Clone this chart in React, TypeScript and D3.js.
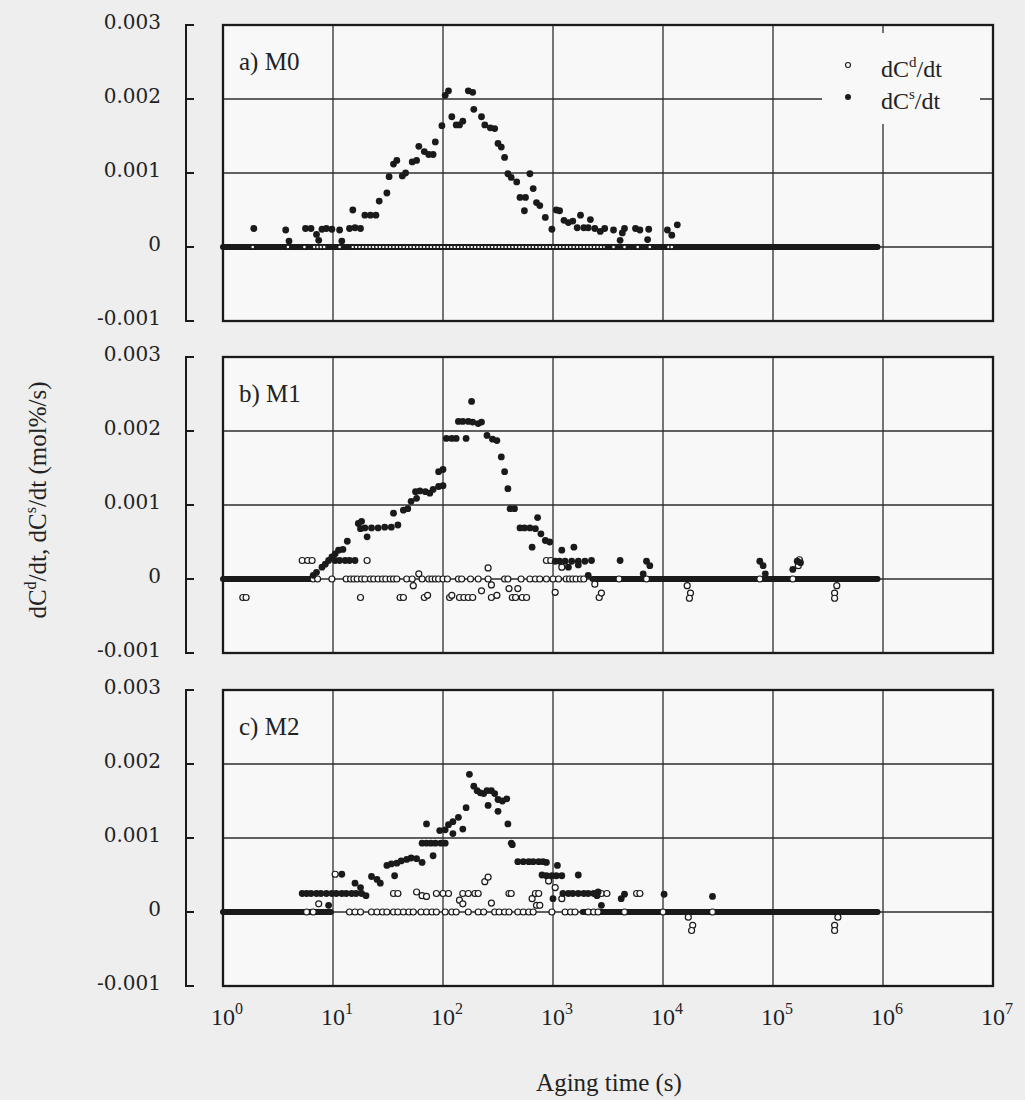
import React from "react";
import * as d3 from "d3";

type P = [number, number];

// ---------- axis / label data ----------
const xExponents = [0, 1, 2, 3, 4, 5, 6, 7];
const yTickValues = [-0.001, 0, 0.001, 0.002, 0.003];
const yTickLabels = ["-0.001", "0", "0.001", "0.002", "0.003"];
const panelNames = ["a) M0", "b) M1", "c) M2"];
const legendItems = [
  { base: "dC", sup: "d", tail: "/dt", open: true },
  { base: "dC", sup: "s", tail: "/dt", open: false },
];

// ---------- data: [log10(aging time / s), rate in 1e-3 mol%/s] ----------
// M0 : dC^s/dt (filled)
const m0Solid: P[] = [
  [0.28, 0.25], [0.57, 0.23], [0.6, 0.08], [0.75, 0.25], [0.8, 0.25], [0.85, 0.17], [0.87, 0.09],
  [0.9, 0.24], [0.94, 0.25], [0.99, 0.24], [1.06, 0.23], [1.08, 0.08], [1.15, 0.25], [1.2, 0.26],
  [1.25, 0.25], [1.18, 0.5], [1.29, 0.43], [1.34, 0.43], [1.39, 0.43], [1.42, 0.62], [1.49, 0.73],
  [1.51, 0.95], [1.55, 1.12], [1.58, 1.17], [1.63, 0.96], [1.66, 1.0], [1.72, 1.15], [1.76, 1.17],
  [1.78, 1.36], [1.83, 1.29], [1.87, 1.25], [1.91, 1.25], [1.93, 1.42], [1.99, 1.64], [2.02, 2.05],
  [2.05, 2.11], [2.08, 1.76], [2.12, 1.65], [2.15, 1.65], [2.18, 1.7], [2.23, 2.11], [2.27, 2.09],
  [2.28, 1.86], [2.35, 1.76], [2.38, 1.65], [2.43, 1.61], [2.47, 1.6], [2.5, 1.4], [2.53, 1.35],
  [2.56, 1.21], [2.59, 0.99], [2.62, 0.94], [2.67, 0.88], [2.7, 0.67], [2.75, 0.67], [2.74, 0.49],
  [2.79, 0.99], [2.82, 0.79], [2.85, 0.6], [2.88, 0.56], [2.93, 0.4], [2.99, 0.24], [3.03, 0.5],
  [3.06, 0.49], [3.1, 0.36], [3.14, 0.33], [3.18, 0.35], [3.22, 0.26], [3.25, 0.43], [3.28, 0.26],
  [3.32, 0.26], [3.34, 0.37], [3.38, 0.25], [3.43, 0.21], [3.47, 0.25], [3.55, 0.23], [3.61, 0.09],
  [3.63, 0.19], [3.65, 0.25], [3.75, 0.25], [3.79, 0.23], [3.86, 0.1], [3.87, 0.24], [4.04, 0.23],
  [4.08, 0.16], [4.13, 0.3],
];
// M0 : dC^d/dt (open)
const m0Open: P[] = [
  [0.27, 0], [0.59, 0], [0.74, 0], [0.83, 0], [0.86, 0], [0.89, 0], [0.92, 0], [1.06, 0],
  [3.55, 0], [3.65, 0], [3.77, 0], [3.88, 0], [4.05, 0], [4.08, 0],
];
// stretches of densely sampled zero values [from, to] in log10(t)
const m0SolidZeroRuns: P[] = [[0, 5.95]];
const m0OpenZeroRuns: P[] = [[1.17, 3.47]];

// M1 : dC^s/dt (filled)
const m1Solid: P[] = [
  [0.82, 0.05], [0.85, 0.09], [0.9, 0.16], [0.93, 0.2], [0.96, 0.25], [0.99, 0.3], [1.02, 0.34],
  [1.05, 0.39], [1.09, 0.4], [1.13, 0.51], [1.02, 0.25], [1.06, 0.25], [1.11, 0.25], [1.15, 0.25],
  [1.2, 0.25], [1.23, 0.75], [1.25, 0.68], [1.26, 0.78], [1.29, 0.69], [1.35, 0.69], [1.41, 0.69],
  [1.47, 0.7], [1.53, 0.7], [1.59, 0.73], [1.31, 0.57], [1.55, 0.89], [1.64, 0.93], [1.68, 0.95],
  [1.71, 1.05], [1.75, 1.18], [1.79, 1.19], [1.84, 1.18], [1.88, 1.16], [1.91, 1.21], [1.96, 1.25],
  [2.0, 1.26], [1.76, 1.09], [1.96, 1.45], [2.0, 1.48], [2.03, 1.9], [2.08, 1.9], [2.12, 1.9],
  [2.21, 1.9], [2.14, 2.13], [2.18, 2.13], [2.23, 2.13], [2.27, 2.12], [2.32, 2.1], [2.35, 2.12],
  [2.26, 2.4], [2.4, 1.94], [2.45, 1.89], [2.49, 1.87], [2.53, 1.65], [2.56, 1.45], [2.59, 1.22],
  [2.61, 0.95], [2.65, 0.95], [2.7, 0.69], [2.74, 0.69], [2.79, 0.69], [2.84, 0.68], [2.81, 0.43],
  [2.86, 0.83], [2.89, 0.61], [2.93, 0.52], [2.97, 0.5], [3.08, 0.39], [3.19, 0.43], [3.02, 0.24],
  [3.06, 0.24], [3.11, 0.24], [3.17, 0.24], [3.23, 0.24], [3.29, 0.24], [3.35, 0.25], [3.14, 0.16],
  [3.23, 0.19], [3.32, 0.05], [3.61, 0.25], [3.82, 0.07], [3.85, 0.24], [3.88, 0.18], [4.88, 0.24],
  [4.91, 0.18], [4.93, 0.07], [5.18, 0.13], [5.22, 0.24], [5.25, 0.22],
];
// M1 : dC^d/dt (open)
const m1Open: P[] = [
  [0.82, 0], [0.86, 0], [0.99, 0], [1.12, 0], [1.16, 0], [1.19, 0], [1.22, 0], [1.26, 0], [1.29, 0],
  [1.34, 0], [1.37, 0], [1.41, 0], [1.45, 0], [1.48, 0], [1.52, 0], [1.55, 0], [1.58, 0], [1.67, 0],
  [1.72, 0], [1.81, 0], [1.87, 0], [1.9, 0], [1.93, 0], [1.96, 0], [2.0, 0], [2.04, 0], [2.14, 0],
  [2.17, 0], [2.25, 0], [2.32, 0], [2.41, 0], [2.56, 0], [2.59, 0], [2.71, 0], [2.79, 0], [2.84, 0],
  [2.88, 0], [2.94, 0], [3.0, 0], [3.05, 0], [3.12, 0], [3.15, 0], [3.18, 0], [3.21, 0], [3.25, 0],
  [3.28, 0], [3.6, 0], [3.85, 0], [4.88, 0], [5.18, 0],
  [0.18, -0.25], [0.21, -0.25], [1.25, -0.25], [1.61, -0.25], [1.64, -0.25], [1.83, -0.25],
  [1.86, -0.22], [2.06, -0.25], [2.08, -0.22], [2.15, -0.25], [2.19, -0.25], [2.23, -0.25],
  [2.27, -0.25], [2.44, -0.25], [2.49, -0.22], [2.63, -0.25], [2.66, -0.25], [2.72, -0.25],
  [2.76, -0.25], [3.42, -0.25], [3.44, -0.19], [1.73, -0.09], [1.78, 0.07], [2.35, -0.16],
  [2.41, 0.15], [2.44, -0.08], [2.6, -0.13], [2.68, -0.13], [3.02, -0.18], [3.08, 0.16],
  [3.38, -0.07], [1.31, 0.25], [0.72, 0.25], [0.77, 0.25], [0.81, 0.25], [2.94, 0.25], [2.98, 0.25],
  [4.22, -0.09], [4.25, -0.19], [4.24, -0.26], [5.58, -0.09], [5.56, -0.19], [5.56, -0.26],
  [5.23, 0.18], [5.24, 0.26],
];
const m1SolidZeroRuns: P[] = [[0, 0.8], [3.36, 5.95]];
const m1OpenZeroRuns: P[] = [];

// M2 : dC^s/dt (filled)
const m2Solid: P[] = [
  [0.72, 0.25], [0.76, 0.25], [0.8, 0.25], [0.85, 0.25], [0.89, 0.25], [0.94, 0.25], [0.99, 0.25],
  [1.03, 0.25], [1.08, 0.25], [1.12, 0.25], [1.17, 0.25], [1.21, 0.25], [1.26, 0.25], [1.3, 0.22],
  [0.96, 0.09], [1.08, 0.51], [1.2, 0.39], [1.25, 0.33], [1.35, 0.48], [1.4, 0.44], [1.43, 0.39],
  [1.49, 0.63], [1.53, 0.65], [1.58, 0.66], [1.62, 0.69], [1.67, 0.71], [1.71, 0.73], [1.76, 0.72],
  [1.81, 0.67], [1.56, 0.49], [1.81, 0.93], [1.85, 0.93], [1.89, 0.93], [1.93, 0.93], [1.98, 0.93],
  [2.02, 0.93], [1.85, 1.19], [1.91, 0.76], [1.97, 1.1], [2.02, 1.11], [2.05, 1.18], [2.09, 1.22],
  [2.14, 1.28], [2.09, 1.06], [2.18, 1.12], [2.21, 1.41], [2.24, 1.86], [2.28, 1.7], [2.31, 1.64],
  [2.34, 1.61], [2.37, 1.6], [2.4, 1.64], [2.44, 1.64], [2.47, 1.6], [2.5, 1.52], [2.54, 1.5],
  [2.58, 1.53], [2.41, 1.44], [2.5, 1.36], [2.59, 1.19], [2.62, 0.93], [2.63, 0.91], [2.68, 0.68],
  [2.73, 0.68], [2.78, 0.68], [2.82, 0.68], [2.87, 0.68], [2.91, 0.68], [2.94, 0.67], [3.04, 0.63],
  [2.9, 0.5], [2.94, 0.49], [2.99, 0.49], [3.03, 0.49], [3.08, 0.49], [3.23, 0.5], [3.0, 0.18],
  [3.09, 0.25], [3.14, 0.25], [3.18, 0.25], [3.23, 0.25], [3.28, 0.25], [3.32, 0.25], [3.37, 0.25],
  [3.4, 0.22], [3.41, 0.27], [3.44, 0.09], [3.62, 0.18], [3.65, 0.24], [4.01, 0.24], [4.45, 0.21],
];
// M2 : dC^d/dt (open)
const m2Open: P[] = [
  [0.76, 0], [0.82, 0], [1.15, 0], [1.2, 0], [1.25, 0], [1.35, 0], [1.4, 0], [1.45, 0], [1.49, 0],
  [1.55, 0], [1.59, 0], [1.64, 0], [1.69, 0], [1.73, 0], [1.8, 0], [1.85, 0], [1.9, 0], [1.94, 0],
  [2.02, 0], [2.08, 0], [2.12, 0], [2.23, 0], [2.32, 0], [2.37, 0], [2.47, 0], [2.51, 0], [2.56, 0],
  [2.6, 0], [2.68, 0], [2.73, 0], [2.78, 0], [2.82, 0], [2.99, 0], [3.11, 0], [3.16, 0], [3.2, 0],
  [3.32, 0], [3.37, 0], [3.41, 0], [3.65, 0], [4.0, 0], [4.45, 0],
  [1.02, 0.51], [0.87, 0.11], [1.55, 0.25], [1.59, 0.25], [1.76, 0.27], [1.81, 0.22], [1.85, 0.21],
  [1.94, 0.25], [2.0, 0.25], [2.05, 0.25], [2.18, 0.25], [2.23, 0.25], [2.29, 0.25], [2.32, 0.25],
  [2.15, 0.16], [2.18, 0.11], [2.38, 0.41], [2.41, 0.47], [2.44, 0.12], [2.6, 0.25], [2.62, 0.25],
  [2.81, 0.18], [2.84, 0.25], [2.87, 0.25], [2.85, 0.09], [2.88, 0.09], [2.96, 0.42], [3.02, 0.33],
  [3.08, 0.18], [3.44, 0.25], [3.49, 0.25], [3.76, 0.25], [3.79, 0.25],
  [4.23, -0.07], [4.27, -0.18], [4.26, -0.25], [5.59, -0.07], [5.56, -0.18], [5.56, -0.25],
];
const m2SolidZeroRuns: P[] = [[0, 0.98], [3.27, 5.95]];
const m2OpenZeroRuns: P[] = [];

const panels = [
  { name: panelNames[0], solid: m0Solid, open: m0Open, solidZero: m0SolidZeroRuns, openZero: m0OpenZeroRuns, small: true },
  { name: panelNames[1], solid: m1Solid, open: m1Open, solidZero: m1SolidZeroRuns, openZero: m1OpenZeroRuns, small: false },
  { name: panelNames[2], solid: m2Solid, open: m2Open, solidZero: m2SolidZeroRuns, openZero: m2OpenZeroRuns, small: false },
];

export default function App() {
  const W = 1025;
  const H = 1100;
  const left = 223;
  const right = 993;
  const tops = [25, 357, 690];
  const ph = 296;
  const ink = "#1a1a1a";
  const gridC = "#2e2e2e";
  const serif = "'Liberation Serif', 'Times New Roman', serif";

  const x = d3.scaleLog().domain([1, 1e7]).range([left, right]);
  const X = (lt: number) => x(Math.pow(10, lt));

  return (
    <svg width={W} height={H} viewBox={`0 0 ${W} ${H}`} style={{ display: "block", position: "absolute", left: 0, top: 0 }} fontFamily={serif}>
      <rect width={W} height={H} fill="#eeeeee" />
      {panels.map((p, i) => {
        const top = tops[i];
        const y = d3.scaleLinear().domain([-0.001, 0.003]).range([top + ph, top]);
        const Y = (v: number) => y(v * 1e-3);
        const rOpen = p.small ? 1.9 : 3.0;
        return (
          <g key={i}>
            <rect x={left} y={top} width={right - left} height={ph} fill="#f8f8f8" />
            {xExponents.slice(1, -1).map((e) => (
              <line key={"gx" + e} x1={x(Math.pow(10, e))} x2={x(Math.pow(10, e))} y1={top} y2={top + ph} stroke={gridC} strokeWidth={1.3} />
            ))}
            {yTickValues.slice(1, -1).map((v) => (
              <line key={"gy" + v} x1={left} x2={right} y1={y(v)} y2={y(v)} stroke={gridC} strokeWidth={1.3} />
            ))}
            {i === 0 && <rect x={822} y={33} width={158} height={91} fill="#f8f8f8" />}
            <rect x={left} y={top} width={right - left} height={ph} fill="none" stroke={ink} strokeWidth={2.3} />

            {/* left y-axis bracket */}
            <path d={`M194,${top} H186 V${top + ph} H194`} fill="none" stroke={ink} strokeWidth={2} />
            {yTickValues.slice(1, -1).map((v) => (
              <line key={"yt" + v} x1={186} x2={194} y1={y(v)} y2={y(v)} stroke={ink} strokeWidth={2} />
            ))}
            {yTickValues.map((v, k) => (
              <text key={"yl" + v} x={161} y={y(v)} dy="0.22em" textAnchor="end" fontSize={20} fontFamily="'DejaVu Serif', serif" fill="#222">
                {yTickLabels[k]}
              </text>
            ))}

            {/* dense zero stretches (filled series) */}
            {p.solidZero.map((r, k) => (
              <line key={"sz" + k} x1={X(r[0])} x2={X(r[1])} y1={Y(0)} y2={Y(0)} stroke={ink} strokeWidth={6} strokeLinecap="round" />
            ))}
            {/* dense zero stretches (open series) */}
            {p.openZero.map((r, k) => (
              <g key={"oz" + k}>
                <line x1={X(r[0])} x2={X(r[1])} y1={Y(0)} y2={Y(0)} stroke={ink} strokeWidth={5} />
                <line x1={X(r[0])} x2={X(r[1])} y1={Y(0)} y2={Y(0)} stroke="#f8f8f8" strokeWidth={1.8} strokeDasharray="2 1.4" />
              </g>
            ))}
            {/* open circles: dC^d/dt */}
            {p.open.map((d, k) => (
              <circle key={"o" + k} cx={X(d[0])} cy={Y(d[1])} r={rOpen} fill="#fbfbfb" stroke={ink} strokeWidth={1.2} />
            ))}
            {/* filled circles: dC^s/dt */}
            {p.solid.map((d, k) => (
              <circle key={"s" + k} cx={X(d[0])} cy={Y(d[1])} r={3.4} fill={ink} />
            ))}

            <text x={239} y={top + 45} fontSize={25} fill="#222">{p.name}</text>
          </g>
        );
      })}

      {/* legend */}
      {legendItems.map((it, k) => (
        <g key={"lg" + k}>
          {it.open ? (
            <circle cx={848} cy={65} r={2.5} fill="#fbfbfb" stroke={ink} strokeWidth={1.1} />
          ) : (
            <circle cx={848} cy={97} r={3} fill={ink} />
          )}
          <text x={881} y={k === 0 ? 77 : 109} fontSize={24} fill="#222">
            {it.base}
            <tspan fontSize={15} dy={-10}>{it.sup}</tspan>
            <tspan dy={10}>{it.tail}</tspan>
          </text>
        </g>
      ))}

      {/* x tick labels */}
      {xExponents.map((e) => (
        <text key={"xl" + e} x={x(Math.pow(10, e)) - 12} y={1025} fontSize={24} fill="#222">
          10
          <tspan fontSize={16} dy={-11}>{e}</tspan>
        </text>
      ))}
      <text x={609} y={1091} textAnchor="middle" fontSize={25} fill="#222">Aging time (s)</text>

      {/* y title */}
      <text transform="translate(46,500) rotate(-90)" textAnchor="middle" fontSize={25} fill="#222">
        dC
        <tspan fontSize={16} dy={-10}>d</tspan>
        <tspan dy={10}>/dt, dC</tspan>
        <tspan fontSize={16} dy={-10}>s</tspan>
        <tspan dy={10}>/dt  (mol%/s)</tspan>
      </text>
    </svg>
  );
}
